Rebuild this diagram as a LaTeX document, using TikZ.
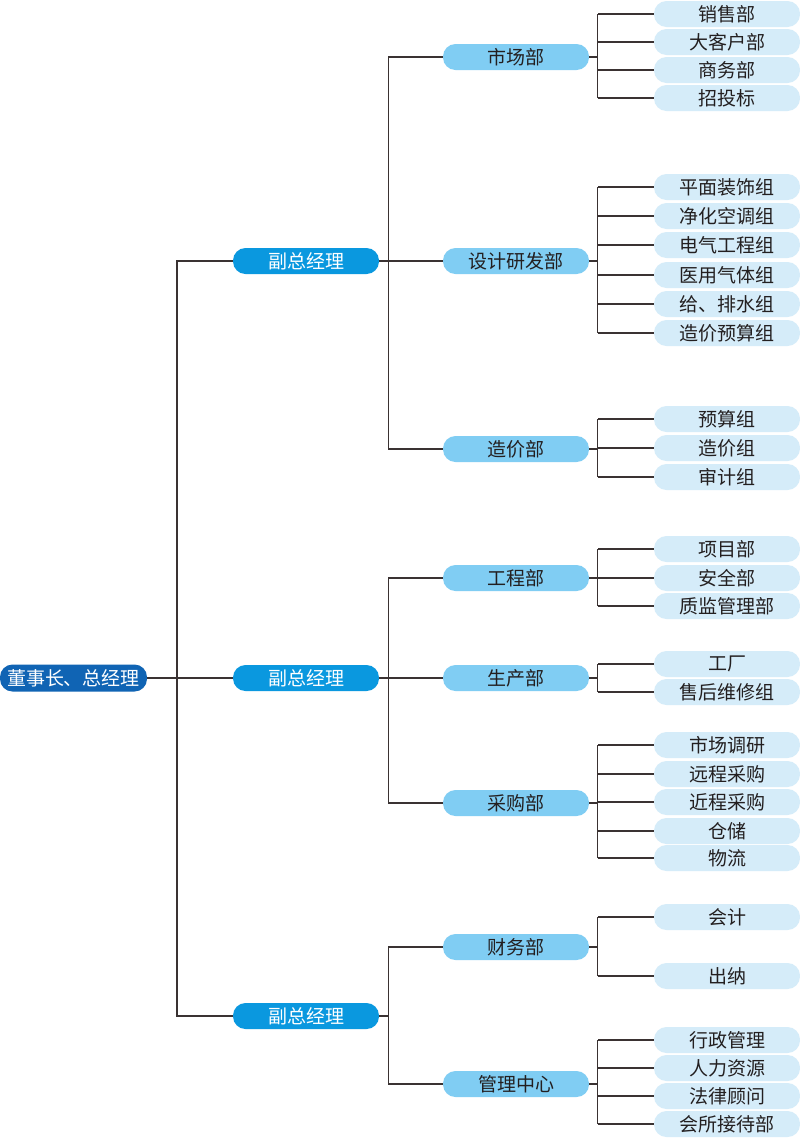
\documentclass[tikz,border=0pt]{standalone}
\usepackage{fontspec}
\setmainfont{Noto Sans CJK SC}
\definecolor{rootc}{HTML}{1064B4}
\definecolor{lvtwo}{HTML}{0A98DF}
\definecolor{lvthree}{HTML}{80CDF3}
\definecolor{leafc}{HTML}{D5ECF9}
\definecolor{linec}{HTML}{3A3232}
\definecolor{txt}{HTML}{231F20}
\tikzset{
  box/.style={rounded corners=12.5pt, minimum width=146pt, minimum height=26pt, inner sep=0pt, font=\fontsize{19}{20}\selectfont, anchor=center},
  rootbox/.style={box, fill=rootc, text=white},
  vpbox/.style={box, fill=lvtwo, text=white},
  deptbox/.style={box, fill=lvthree, text=txt},
  leafbox/.style={box, fill=leafc, text=txt},
  conn/.style={draw=linec, line width=1.1pt}
}
\begin{document}
\begin{tikzpicture}[x=1pt,y=-1pt]
\useasboundingbox (0,0) rectangle (800,1141);
\fill[white] (0,0) rectangle (800,1141);
% root
\node[rootbox, minimum width=147pt, minimum height=27pt] (root) at (73.5,678) {董事长、总经理};
% vice presidents
\node[vpbox] (vp1) at (306,261) {副总经理};
\node[vpbox] (vp2) at (306,678) {副总经理};
\node[vpbox] (vp3) at (306,1016) {副总经理};
% departments
\node[deptbox] (d1) at (516,57) {市场部};
\node[deptbox] (d2) at (516,261) {设计研发部};
\node[deptbox] (d3) at (516,449) {造价部};
\node[deptbox] (d4) at (516,578) {工程部};
\node[deptbox] (d5) at (516,678) {生产部};
\node[deptbox] (d6) at (516,803) {采购部};
\node[deptbox] (d7) at (516,947) {财务部};
\node[deptbox] (d8) at (516,1084) {管理中心};
% leaves
\node[leafbox] (l11) at (727,14) {销售部};
\node[leafbox] (l12) at (727,42) {大客户部};
\node[leafbox] (l13) at (727,70) {商务部};
\node[leafbox] (l14) at (727,98) {招投标};
\node[leafbox] (l21) at (727,187) {平面装饰组};
\node[leafbox] (l22) at (727,216) {净化空调组};
\node[leafbox] (l23) at (727,245) {电气工程组};
\node[leafbox] (l24) at (727,275) {医用气体组};
\node[leafbox] (l25) at (727,304) {给、排水组};
\node[leafbox] (l26) at (727,333) {造价预算组};
\node[leafbox] (l31) at (727,419) {预算组};
\node[leafbox] (l32) at (727,448) {造价组};
\node[leafbox] (l33) at (727,477) {审计组};
\node[leafbox] (l41) at (727,549) {项目部};
\node[leafbox] (l42) at (727,578) {安全部};
\node[leafbox] (l43) at (727,606) {质监管理部};
\node[leafbox] (l51) at (727,664) {工厂};
\node[leafbox] (l52) at (727,692) {售后维修组};
\node[leafbox] (l61) at (727,745) {市场调研};
\node[leafbox] (l62) at (727,774) {远程采购};
\node[leafbox] (l63) at (727,802) {近程采购};
\node[leafbox] (l64) at (727,831) {仓储};
\node[leafbox] (l65) at (727,858) {物流};
\node[leafbox] (l71) at (727,917) {会计};
\node[leafbox] (l72) at (727,976) {出纳};
\node[leafbox] (l81) at (727,1040) {行政管理};
\node[leafbox] (l82) at (727,1068) {人力资源};
\node[leafbox] (l83) at (727,1096) {法律顾问};
\node[leafbox] (l84) at (727,1124) {会所接待部};
% connectors root -> vice presidents
\coordinate (bus0) at (177,678);
\draw[conn] (root.east) -- (vp2.west);
\draw[conn] (vp1.west) -| (bus0) |- (vp3.west);
% vice presidents -> departments
\foreach \v/\first/\last in {vp1/d1/d3, vp2/d4/d6, vp3/d7/d8}{
  \draw[conn] (\v.east) -- ++(9,0) coordinate (bv);
  \draw[conn] (\first.west) -| (bv);
  \draw[conn] (\last.west) -| (bv);
}
\draw[conn] (vp1.east) -- (d2.west);
\draw[conn] (vp2.east) -- (d5.west);
% departments -> leaves
\foreach \d/\ls in {d1/{l11,l12,l13,l14}, d2/{l21,l22,l23,l24,l25,l26}, d3/{l31,l32,l33}, d4/{l41,l42,l43}, d5/{l51,l52}, d6/{l61,l62,l63,l64,l65}, d7/{l71,l72}, d8/{l81,l82,l83,l84}}{
  \draw[conn] (\d.east) -- ++(9,0);
  \foreach \l in \ls {
    \draw[conn] (\l.west) -- ++(-56,0) coordinate (tmp);
    \draw[conn] (tmp) -- (tmp |- \d.east);
  }
}
\end{tikzpicture}
\end{document}
